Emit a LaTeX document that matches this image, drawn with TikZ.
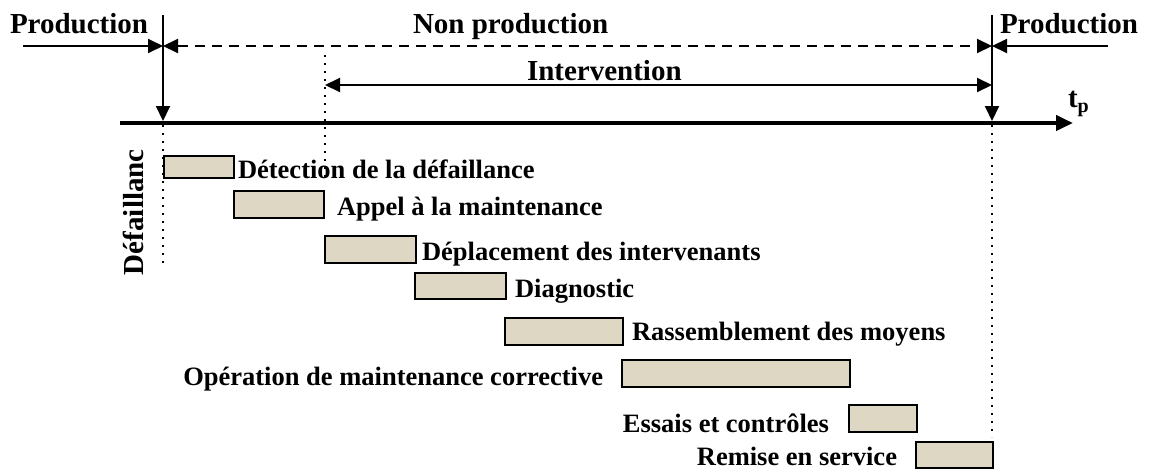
\documentclass[tikz,border=0pt]{standalone}
\usepackage{fontspec}
\setmainfont{Liberation Serif}
\usetikzlibrary{arrows.meta}
\definecolor{barfill}{RGB}{221,215,196}
\begin{document}
\begin{tikzpicture}[x=1pt,y=-1pt,
  head/.style={font=\fontsize{29}{32}\selectfont\bfseries, inner sep=0pt, outer sep=0pt},
  task/.style={font=\fontsize{26.5}{30}\selectfont\bfseries, inner sep=0pt, outer sep=0pt},
  bar/.style={draw, line width=2pt, fill=barfill, inner sep=0pt, outer sep=0pt, anchor=north west},
  arr/.style={line width=2pt, -{Triangle[length=15pt,width=14pt]}},
  darr/.style={line width=2pt, {Triangle[length=15pt,width=14pt]}-{Triangle[length=15pt,width=14pt]}},
  dots/.style={line width=2pt, dash pattern=on 2pt off 6pt},
]
\useasboundingbox (0,0) rectangle (1149,469);

% key instants on the time line
\coordinate (Ltop) at (163,15);
\coordinate (Laxis) at (163,121);
\coordinate (Rtop) at (992,15);
\coordinate (Raxis) at (992,121);
\coordinate (axisStart) at (120,123);
\coordinate (axisEnd) at (1073,123);
\coordinate (prodL) at (23,46);
\coordinate (stopL) at (163,46);
\coordinate (stopR) at (992,46);
\coordinate (prodR) at (1108,46);
\coordinate (intL) at (325,85);
\coordinate (intR) at (992,85);

% time axis
\draw[line width=4pt, -{Triangle[length=17pt,width=15pt]}] (axisStart) -- (axisEnd);
\node[head, anchor=base west] (tp) at (1068,107) {t\raisebox{-0.2em}{\fontsize{20}{20}\selectfont p}};

% phase limits
\draw[arr] (Ltop) -- (Laxis);
\draw[arr] (Rtop) -- (Raxis);
\draw[arr] (prodL) -- (stopL);
\draw[arr] (prodR) -- (stopR);
\draw[darr, dash pattern=on 10pt off 7pt] (stopL) -- (stopR);
\draw[darr] (intL) -- (intR);

% dotted guides
\coordinate (g1a) at (325,55);  \coordinate (g1b) at (325,180);
\coordinate (g2a) at (163,125); \coordinate (g2b) at (163,268);
\coordinate (g3a) at (992,125); \coordinate (g3b) at (992,437);
\draw[dots] (g1a) -- (g1b);
\draw[dots] (g2a) -- (g2b);
\draw[dots] (g3a) -- (g3b);

% phase titles
\node[head, anchor=base west] (p1) at (10,33) {Production};
\node[head, anchor=base west] (np) at (413,33) {Non production};
\node[head, anchor=base west] (iv) at (527,80) {Intervention};
\node[head, anchor=base west] (p2) at (1000,33) {Production};
\node[head, anchor=base west, rotate=90] (df) at (143,275) {Défaillanc};

% task bars
\node[bar, minimum width=70pt, minimum height=22pt] (b1) at (164,156) {};
\node[bar, minimum width=90pt, minimum height=27pt] (b2) at (234,191) {};
\node[bar, minimum width=91pt, minimum height=27pt] (b3) at (325,236) {};
\node[bar, minimum width=91pt, minimum height=26pt] (b4) at (415,273) {};
\node[bar, minimum width=118pt, minimum height=27pt] (b5) at (505,318) {};
\node[bar, minimum width=228pt, minimum height=27pt] (b6) at (622,360) {};
\node[bar, minimum width=68pt, minimum height=27pt] (b7) at (849,405) {};
\node[bar, minimum width=77pt, minimum height=26pt] (b8) at (916,442) {};

% task labels
\node[task, anchor=base west] (t1) at (238,178) {Détection de la défaillance};
\node[task, anchor=base west] (t2) at (337,215) {Appel à la maintenance};
\node[task, anchor=base west] (t3) at (422,260) {Déplacement des intervenants};
\node[task, anchor=base west] (t4) at (515,297) {Diagnostic};
\node[task, anchor=base west] (t5) at (632,340) {Rassemblement des moyens};
\node[task, anchor=base east] (t6) at (603,385) {Opération de maintenance corrective};
\node[task, anchor=base east] (t7) at (829,432) {Essais et contrôles};
\node[task, anchor=base east] (t8) at (897,465) {Remise en service};
\end{tikzpicture}
\end{document}
